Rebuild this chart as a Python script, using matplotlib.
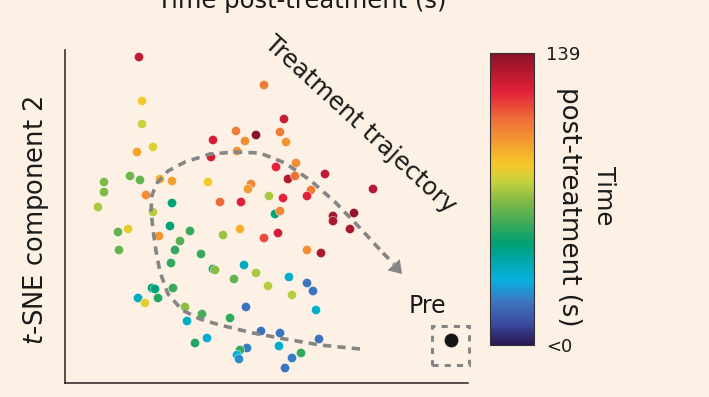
import numpy as np
import matplotlib
matplotlib.use("Agg")
import matplotlib.pyplot as plt
from matplotlib.colors import LinearSegmentedColormap, Normalize
from matplotlib.patches import Rectangle, FancyArrowPatch

plt.rcParams['font.family'] = ['DejaVu Sans']
plt.rcParams['mathtext.fontset'] = 'dejavusans'

# ---- data (t-SNE coordinates, arbitrary units) ----
tsne1 = [139, 142, 142, 137, 153, 213, 236, 245, 256, 237, 211, 130, 140, 104, 104, 98,
         160, 172, 208, 251, 248, 146, 172, 220, 241, 153, 264, 284, 280, 286, 276, 296,
         325, 288, 295, 373, 269, 283, 311, 307, 275, 280, 333, 354, 333, 350, 264, 278,
         307, 321, 244, 256, 289, 307, 313, 268, 292, 246, 316, 261, 280, 319, 279, 247,
         240, 292, 285, 301, 118, 128, 119, 170, 190, 159, 180, 175, 223, 240, 201, 171,
         213, 215, 234, 152, 155, 173, 138, 145, 158, 185, 202, 187, 230, 207, 195, 237, 239]
tsne2_px = [57, 101, 124, 152, 147, 140, 131, 141, 135, 151, 157, 176, 180, 182, 192, 207,
            179, 181, 182, 184, 189, 195, 203, 202, 202, 212, 85, 119, 132, 142, 167, 163,
            174, 179, 176, 189, 196, 198, 190, 196, 214, 211, 216, 213, 221, 229, 238, 233,
            250, 253, 265, 273, 277, 283, 291, 286, 295, 307, 310, 331, 333, 339, 346, 348,
            350, 358, 368, 353, 232, 229, 250, 226, 231, 236, 241, 250, 235, 229, 254, 263,
            269, 270, 279, 288, 289, 288, 298, 303, 298, 307, 314, 321, 318, 338, 343, 355, 359]
tsne2 = [397 - v for v in tsne2_px]
time_s = [128, 86, 78, 95, 82, 124, 104, 100, 138, 98, 124, 66, 64, 68, 68, 74,
          92, 96, 86, 102, 97, 100, 48, 108, 122, 76, 104, 126, 104, 98, 120, 100,
          128, 130, 106, 130, 74, 120, 104, 122, 48, 102, 134, 136, 132, 132, 114, 124,
          100, 132, 38, 74, 34, 20, 20, 76, 76, 20, 34, 20, 20, 20, 34, 22,
          58, 22, 20, 56, 64, 84, 64, 48, 58, 98, 62, 56, 72, 92, 58, 56,
          50, 70, 64, 48, 48, 58, 36, 84, 54, 70, 60, 36, 56, 34, 54, 32, 24]

pre_x, pre_y = [451], [397 - 340]
time_min, time_max = 0, 139
cbar_ticklabels = ['<0', '139']

# trajectory guide (annotation path)
traj_x = [360, 320, 285, 253, 220, 200, 182, 168, 160, 156, 153, 151, 152, 157, 168, 185,
          210, 235, 260, 285, 310, 335, 360, 383]
traj_ypx = [349, 345, 339, 333, 325, 319, 310, 294, 272, 251, 230, 210, 195, 183, 171, 162,
            154, 152, 153, 163, 180, 202, 228, 253]
traj_y = [397 - v for v in traj_ypx]
arrow_tip = (402, 397 - 274)

# ---- colormap ----
cmap = LinearSegmentedColormap.from_list('traj', [
    (0.00, '#2a1650'), (0.07, '#3a4aa0'), (0.15, '#3c78c0'), (0.22, '#08b0e0'),
    (0.29, '#00a8a8'), (0.35, '#00a070'), (0.42, '#40aa58'), (0.50, '#88bc44'),
    (0.56, '#c8d23c'), (0.62, '#f5c82a'), (0.70, '#f39a30'), (0.78, '#ee6a38'),
    (0.87, '#e4203a'), (1.00, '#8a1228')])

BG = '#fdf1e5'
GRAY = '#858585'
TXT = '#1a1a1a'
W, H = 709, 397
fig = plt.figure(figsize=(W / 100, H / 100), dpi=100, facecolor=BG)
ax = fig.add_axes([65 / W, 13.7 / H, (468 - 65) / W, (347 - 13.7) / H])
ax.set_facecolor(BG)
ax.set_xlim(65, 468)
ax.set_ylim(13.7, 347)
for s in ['top', 'right']:
    ax.spines[s].set_visible(False)
for s in ['left', 'bottom']:
    ax.spines[s].set_color('#2a2020')
    ax.spines[s].set_linewidth(1.1)
ax.set_xticks([])
ax.set_yticks([])

norm = Normalize(time_min, time_max)
sc = ax.scatter(tsne1, tsne2, c=time_s, cmap=cmap, norm=norm, s=44,
                edgecolors='white', linewidths=0.3, zorder=3)

# trajectory
ax.plot(traj_x, traj_y, color=GRAY, lw=2.6, dashes=(2.3, 1.7),
        solid_capstyle='butt', dash_capstyle='butt', zorder=4)
arr = FancyArrowPatch((traj_x[-1], traj_y[-1]), arrow_tip,
                      arrowstyle='-|>,head_length=0.9,head_width=0.6',
                      mutation_scale=10, color=GRAY, lw=0, shrinkA=0, shrinkB=0, zorder=4)
ax.add_patch(arr)
ax.plot([traj_x[-1], 394], [traj_y[-1], 397 - 264], color=GRAY, lw=2.6,
        dashes=(2.3, 1.7), dash_capstyle='butt', zorder=4)

ax.text(360, 397 - 125, 'Treatment trajectory', rotation=-42.5, rotation_mode='anchor',
        ha='center', va='center', fontsize=17.5, color=TXT)

# Pre
ax.scatter(pre_x, pre_y, color='#151515', s=80, zorder=5)
ax.add_patch(Rectangle((432, 397 - 365), 37, 39, fill=False, edgecolor=GRAY,
                       lw=2.2, linestyle=(0, (2, 2)), clip_on=False, zorder=4))
ax.text(427.5, 397 - 306, 'Pre', ha='center', va='center', fontsize=17, color=TXT)

# colorbar
cax = fig.add_axes([490 / W, (H - 345) / H, 44 / W, 291.7 / H])
cb = fig.colorbar(sc, cax=cax)
cb.set_ticks([time_min, time_max])
cb.set_ticklabels(cbar_ticklabels)
cax.tick_params(length=0, pad=9, labelsize=13, colors=TXT)
cb.outline.set_linewidth(0.8)
cb.outline.set_edgecolor('#333333')

fig.text(604 / W, (H - 196) / H, 'Time', rotation=270,
         ha='center', va='center', fontsize=17.5, color=TXT)
fig.text(568.5 / W, (H - 207) / H, 'post-treatment (s)', rotation=270,
         ha='center', va='center', fontsize=18.8, color=TXT)

# y label
fig.text(36 / W, (H - 220) / H, '$t$-SNE component 2', rotation=90,
         ha='center', va='center', fontsize=18.5, color=TXT)

# clipped heading at top
fig.text(302 / W, (H - 8) / H, 'Time post-treatment (s)', ha='center', va='baseline',
         fontsize=17.5, color=TXT)

fig.savefig('out.png', dpi=100, facecolor=BG)
